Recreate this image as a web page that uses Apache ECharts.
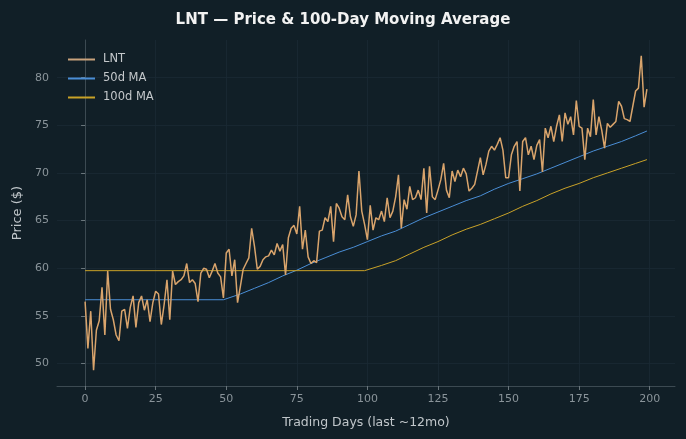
<!DOCTYPE html>
<html>
<head>
<meta charset="utf-8">
<script src="https://cdn.jsdelivr.net/npm/echarts@6/dist/echarts.min.js"></script>
<style>
  html, body { margin: 0; padding: 0; background: #111f27; }
  #main { width: 686px; height: 439px; }
</style>
</head>
<body>
<div id="main"></div>
<script>
// LNT closing price, one value per trading day (day 0..199)
var price = [
  56.5, 51.6, 55.5, 49.3, 53.5, 54.5, 58.0, 53.0, 59.7, 55.7,
  54.6, 53.0, 52.4, 55.5, 55.7, 53.7, 55.9, 57.1, 53.8, 56.4,
  57.1, 55.6, 56.7, 54.4, 56.4, 57.6, 57.3, 54.1, 56.2, 58.8,
  54.6, 59.7, 58.3, 58.6, 58.8, 59.2, 60.5, 58.5, 58.8, 58.4,
  56.5, 59.5, 60.0, 59.9, 59.0, 59.7, 60.5, 59.5, 59.1, 56.9,
  61.6, 62.0, 59.2, 60.9, 56.4, 58.1, 59.9, 60.5, 61.1, 64.2,
  62.3, 59.9, 60.2, 60.9, 61.2, 61.3, 61.9, 61.4, 62.6, 61.8,
  62.5, 59.3, 63.2, 64.2, 64.5, 63.6, 66.5, 62.0, 64.0, 61.2,
  60.5, 60.8, 60.6, 63.9, 64.0, 65.3, 64.9, 66.5, 62.8, 66.8,
  66.3, 65.4, 65.1, 67.7, 65.4, 64.4, 65.6, 70.2, 66.0, 64.6,
  63.0, 66.6, 64.0, 65.3, 65.1, 66.0, 64.9, 67.4, 65.3, 66.0,
  67.5, 69.8, 64.2, 67.2, 66.2, 68.6, 67.2, 67.4, 68.2, 67.2,
  70.5, 65.8, 70.7, 67.5, 67.2, 68.2, 69.3, 71.0, 68.2, 67.4,
  70.2, 69.1, 70.3, 69.6, 70.5, 69.9, 68.1, 68.4, 68.8, 70.2,
  71.6, 69.8, 70.9, 72.3, 72.8, 72.4, 73.0, 73.7, 72.4, 69.5,
  69.5, 71.9, 72.8, 73.3, 68.1, 73.3, 73.7, 71.9, 72.8, 71.4,
  72.9, 73.5, 70.1, 74.7, 73.7, 74.9, 73.3, 74.9, 76.1, 73.3,
  76.3, 75.1, 75.9, 74.0, 77.6, 74.9, 74.7, 71.4, 74.7, 73.8,
  77.7, 74.0, 75.9, 74.5, 72.6, 75.2, 74.8, 75.1, 75.4, 77.5,
  77.0, 75.7, 75.6, 75.4, 77.0, 78.6, 78.9, 82.3, 76.9, 78.8
];

// moving averages at these days
var ma50Days = [0, 49, 55, 60, 65, 70, 75, 80, 85, 90, 95, 100, 105, 110, 115, 120,
                125, 130, 135, 140, 145, 150, 155, 160, 165, 170, 175, 180, 185, 190, 195, 199];
var ma50Values = [56.7, 56.7, 57.3, 57.9, 58.5, 59.2, 59.8, 60.5, 61.1, 61.7, 62.2, 62.8, 63.4, 63.9, 64.6, 65.3,
                  65.9, 66.5, 67.1, 67.6, 68.3, 68.9, 69.4, 69.9, 70.5, 71.1, 71.7, 72.3, 72.8, 73.3, 73.9, 74.4];

var ma100Days = [0, 99, 105, 110, 115, 120, 125, 130, 135, 140, 145, 150,
                 155, 160, 165, 170, 175, 180, 185, 190, 195, 199];
var ma100Values = [59.75, 59.75, 60.3, 60.8, 61.5, 62.2, 62.8, 63.5, 64.1, 64.6, 65.2, 65.8,
                   66.5, 67.1, 67.8, 68.4, 68.9, 69.5, 70.0, 70.5, 71.0, 71.4];

var xTicks = [0, 25, 50, 75, 100, 125, 150, 175, 200];
var yTicks = [50, 55, 60, 65, 70, 75, 80];

function pairs(xs, ys) {
  return xs.map(function (x, i) { return [x, ys[i]]; });
}

var myChart = echarts.init(document.getElementById('main'));

var axisText = { color: '#8a949a', fontSize: 11, fontFamily: 'DejaVu Sans' };
var gridLine = { show: true, lineStyle: { color: '#1a2a33', width: 0.8 } };
var lineIcon = 'rect';

var option = {
  backgroundColor: '#111f27',
  animation: false,
  title: {
    text: 'LNT — Price & 100-Day Moving Average',
    left: 'center',
    top: 8,
    textStyle: { color: '#f2f2f2', fontSize: 15, fontWeight: 'bold', fontFamily: 'DejaVu Sans' }
  },
  legend: {
    orient: 'vertical',
    left: 63,
    top: 48,
    itemWidth: 27,
    itemHeight: 2,
    itemGap: 6,
    textStyle: { color: '#c4c8cb', fontSize: 11.5, fontFamily: 'DejaVu Sans', padding: [0, 0, 0, 3], lineHeight: 13 },
    data: [
      { name: 'LNT', icon: lineIcon },
      { name: '50d MA', icon: lineIcon },
      { name: '100d MA', icon: lineIcon }
    ]
  },
  grid: { left: 57, right: 11, top: 40, bottom: 53 },
  xAxis: {
    type: 'value',
    min: -9.95,
    max: 208.95,
    name: 'Trading Days (last ~12mo)',
    nameLocation: 'middle',
    nameGap: 30,
    nameTextStyle: { color: '#c0c6ca', fontSize: 12.5, fontFamily: 'DejaVu Sans' },
    axisLine: { show: true, lineStyle: { color: '#3c4a52' } },
    axisTick: { show: true, length: 4, customValues: xTicks, lineStyle: { color: '#6a767c' } },
    axisLabel: Object.assign({ customValues: xTicks, margin: 8 }, axisText),
    splitLine: gridLine
  },
  yAxis: {
    type: 'value',
    min: 47.65,
    max: 83.95,
    name: 'Price ($)',
    nameLocation: 'middle',
    nameGap: 32,
    nameTextStyle: { color: '#c0c6ca', fontSize: 13, fontFamily: 'DejaVu Sans' },
    axisLine: { show: true, lineStyle: { color: '#3c4a52' } },
    axisTick: { show: true, length: 4, customValues: yTicks, lineStyle: { color: '#6a767c' } },
    axisLabel: Object.assign({ customValues: yTicks, margin: 8 }, axisText),
    splitLine: gridLine
  },
  series: [
    {
      name: 'LNT',
      type: 'line',
      symbol: 'none',
      data: price.map(function (v, i) { return [i, v]; }),
      lineStyle: { color: '#d9a46c', width: 1.5 },
      itemStyle: { color: '#c9a27c' },
      z: 3
    },
    {
      name: '50d MA',
      type: 'line',
      symbol: 'none',
      data: pairs(ma50Days, ma50Values),
      lineStyle: { color: '#4a8ed6', width: 1 },
      itemStyle: { color: '#4a8ed6' },
      z: 2
    },
    {
      name: '100d MA',
      type: 'line',
      symbol: 'none',
      data: pairs(ma100Days, ma100Values),
      lineStyle: { color: '#c9a227', width: 1 },
      itemStyle: { color: '#c9a227' },
      z: 2
    }
  ]
};

myChart.setOption(option);
</script>
</body>
</html>
